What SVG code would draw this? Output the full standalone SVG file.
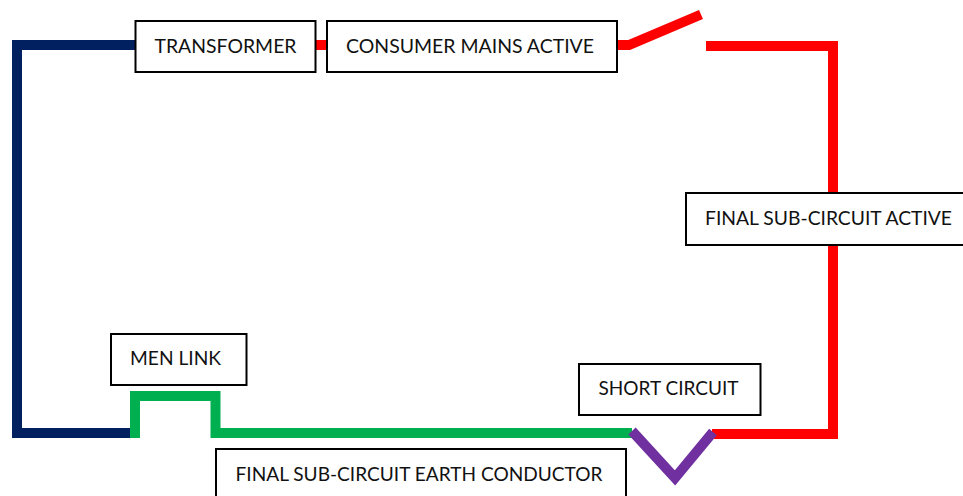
<svg xmlns="http://www.w3.org/2000/svg" width="963" height="496" viewBox="0 0 963 496">
<style>
.w{fill:none;stroke-width:10;stroke-linejoin:miter;stroke-linecap:butt}
.n{stroke:#002060}.r{stroke:#ff0000}.g{stroke:#00b050}.p{stroke:#7030a0}
.b{fill:#fff;stroke:#000;stroke-width:2}
text{font-family:"Lato","Liberation Sans",sans-serif;font-size:20px;fill:#111}
</style>
<rect width="963" height="496" fill="#fff"/>
<g id="connectors">
<path class="w n" d="M135 45H17V433H131"/>
<path class="w r" d="M315 45H328"/>
<path class="w r" d="M617 45H629L701 14.500"/>
<path class="w r" d="M706 46H833V434H712"/>
<path class="w g" d="M135 438V396H215.500V433H632"/>
<path class="w p" d="M632 431L675 478L713 432"/>
</g>
<g id="transformer"><rect class="b" x="135.500" y="21" width="180" height="51"/><text x="154.500" y="53" textLength="142" lengthAdjust="spacingAndGlyphs">TRANSFORMER</text></g>
<g id="consumer-mains-active"><rect class="b" x="327" y="21" width="290" height="51"/><text x="346" y="53" textLength="248" lengthAdjust="spacingAndGlyphs">CONSUMER MAINS ACTIVE</text></g>
<g id="final-sub-circuit-active"><rect class="b" x="686" y="193" width="290" height="52"/><text x="705" y="225" textLength="247" lengthAdjust="spacingAndGlyphs">FINAL SUB-CIRCUIT ACTIVE</text></g>
<g id="men-link"><rect class="b" x="111" y="334" width="135.500" height="51"/><text x="130" y="365" textLength="91" lengthAdjust="spacingAndGlyphs">MEN LINK</text></g>
<g id="short-circuit"><rect class="b" x="579" y="364" width="181.500" height="51"/><text x="598.500" y="395" textLength="140" lengthAdjust="spacingAndGlyphs">SHORT CIRCUIT</text></g>
<g id="final-sub-circuit-earth-conductor"><rect class="b" x="216" y="449" width="410" height="60"/><text x="235.500" y="481" textLength="367" lengthAdjust="spacingAndGlyphs">FINAL SUB-CIRCUIT EARTH CONDUCTOR</text></g>
</svg>
